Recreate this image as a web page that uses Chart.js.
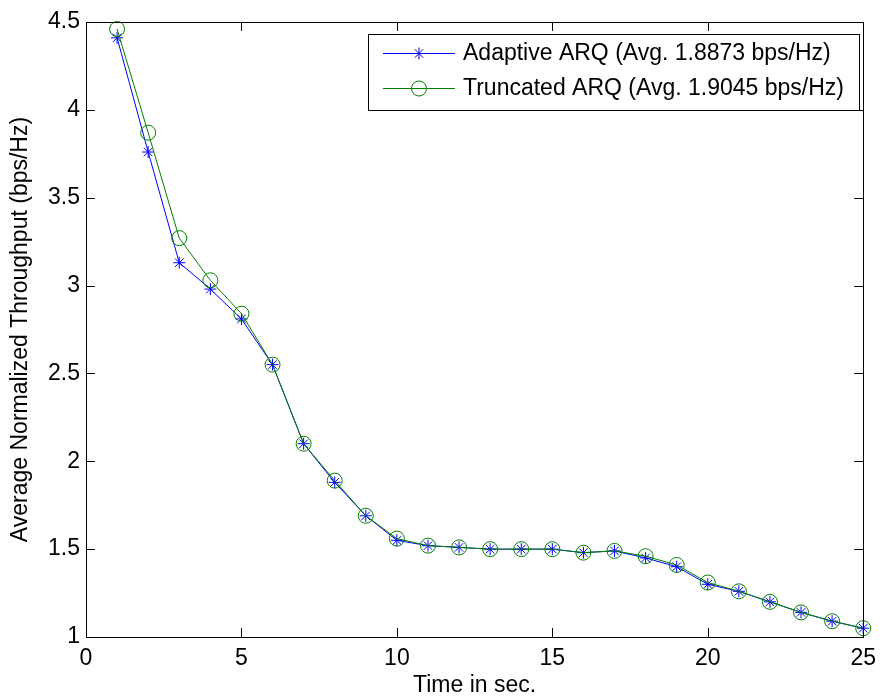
<!DOCTYPE html>
<html>
<head>
<meta charset="utf-8">
<script src="https://cdn.jsdelivr.net/npm/chart.js@4/dist/chart.umd.min.js"></script>
<style>
  html, body { margin: 0; padding: 0; background: #fff; }
  #wrap { width: 884px; height: 698px; }
</style>
</head>
<body>
<div id="wrap"><canvas id="throughputChart" width="884" height="698"></canvas></div>
<script>
// data
const timeSec = [1, 2, 3, 4, 5, 6, 7, 8, 9, 10, 11, 12, 13, 14, 15, 16, 17, 18, 19, 20, 21, 22, 23, 24, 25];
const adaptiveArq = [4.41, 3.76, 3.13, 2.98, 2.81, 2.55, 2.10, 1.88, 1.69, 1.55, 1.52, 1.51, 1.50, 1.50, 1.50, 1.48, 1.49, 1.45, 1.40, 1.30, 1.26, 1.20, 1.14, 1.09, 1.05];
const truncatedArq = [4.46, 3.87, 3.27, 3.03, 2.84, 2.55, 2.10, 1.89, 1.69, 1.56, 1.52, 1.51, 1.50, 1.50, 1.50, 1.48, 1.49, 1.46, 1.41, 1.31, 1.26, 1.20, 1.14, 1.09, 1.05];
const seriesLabels = ['Adaptive ARQ (Avg. 1.8873 bps/Hz)', 'Truncated ARQ (Avg. 1.9045 bps/Hz)'];
const xTicks = [0, 5, 10, 15, 20, 25];
const yTicks = [1, 1.5, 2, 2.5, 3, 3.5, 4, 4.5];

const fontFamily = '"Liberation Sans", Arial, Helvetica, sans-serif';
const fontSize = 23;

// Matlab style box with inward ticks + legend box
const boxPlugin = {
    id: 'boxPlugin',
    afterDraw(chart) {
        const ctx = chart.ctx;
        const a = chart.chartArea;
        const xs = chart.scales.x, ys = chart.scales.y;
        const tl = 9;
        ctx.save();
        ctx.strokeStyle = '#000';
        ctx.lineWidth = 1;
        ctx.beginPath();
        xTicks.forEach(v => {
            const px = Math.round(xs.getPixelForValue(v)) + 0.5;
            ctx.moveTo(px, a.bottom); ctx.lineTo(px, a.bottom - tl);
            ctx.moveTo(px, a.top); ctx.lineTo(px, a.top + tl);
        });
        yTicks.forEach(v => {
            const py = Math.round(ys.getPixelForValue(v)) + 0.5;
            ctx.moveTo(a.left, py); ctx.lineTo(a.left + tl, py);
            ctx.moveTo(a.right, py); ctx.lineTo(a.right - tl, py);
        });
        ctx.stroke();
        ctx.strokeRect(Math.round(a.left) + 0.5, Math.round(a.top) + 0.5, Math.round(a.right - a.left), Math.round(a.bottom - a.top));

        // legend
        const lx = 368, ly = 34, lw = 491, lh = 76;
        ctx.fillStyle = '#fff';
        ctx.fillRect(lx, ly, lw, lh);
        ctx.strokeStyle = '#000';
        ctx.strokeRect(lx + 0.5, ly + 0.5, lw, lh);
        ctx.font = fontSize + 'px ' + fontFamily;
        ctx.textBaseline = 'middle';
        ctx.textAlign = 'left';
        chart.data.datasets.forEach((ds, i) => {
            const y = 53 + i * 35;
            ctx.strokeStyle = ds.borderColor;
            ctx.lineWidth = 1;
            ctx.beginPath();
            ctx.moveTo(383, y + 0.5); ctx.lineTo(455, y + 0.5);
            ctx.stroke();
            ctx.strokeStyle = ds.pointBorderColor;
            ctx.fillStyle = 'rgba(0,0,0,0)';
            Chart.helpers.drawPoint(ctx, {
                pointStyle: ds.pointStyle, radius: ds.pointRadius, borderWidth: 1, rotation: 0
            }, 419, y + 0.5);
            ctx.fillStyle = '#000';
            ctx.fillText(ds.label, 463, y + 1);
        });
        ctx.restore();
    }
};

const ctx = document.getElementById('throughputChart').getContext('2d');
const throughputChart = new Chart(ctx, {
    type: 'line',
    data: {
        labels: timeSec,
        datasets: [{
            label: seriesLabels[0],
            data: timeSec.map((t, i) => ({ x: t, y: adaptiveArq[i] })),
            borderColor: '#0000ff',
            backgroundColor: 'rgba(0,0,0,0)',
            pointBorderColor: '#0000ff',
            pointBackgroundColor: 'rgba(0,0,0,0)',
            borderWidth: 1,
            pointStyle: 'star',
            pointRadius: 6,
            pointBorderWidth: 1,
            order: 1,
            clip: false
        }, {
            label: seriesLabels[1],
            data: timeSec.map((t, i) => ({ x: t, y: truncatedArq[i] })),
            borderColor: '#008000',
            backgroundColor: 'rgba(0,0,0,0)',
            pointBorderColor: '#008000',
            pointBackgroundColor: 'rgba(0,0,0,0)',
            borderWidth: 1,
            pointStyle: 'circle',
            pointRadius: 7.5,
            pointBorderWidth: 1,
            order: 0,
            clip: false
        }]
    },
    options: {
        responsive: false,
        animation: false,
        layout: { padding: { top: 22, right: 15, left: 0, bottom: 0 } },
        plugins: { legend: { display: false }, tooltip: { enabled: false } },
        scales: {
            x: {
                type: 'linear',
                min: 0, max: 25,
                afterFit: s => { s.height = 61; },
                afterBuildTicks: s => { s.ticks = xTicks.map(v => ({ value: v })); },
                grid: { display: false, drawTicks: false },
                border: { display: false },
                ticks: { color: '#000', padding: 8, maxRotation: 0, font: { family: fontFamily, size: fontSize },
                         callback: v => String(v) },
                title: { display: true, text: 'Time in sec.', color: '#000',
                         font: { family: fontFamily, size: fontSize, lineHeight: 1 }, padding: { top: 0, bottom: 1 } }
            },
            y: {
                min: 1, max: 4.5,
                afterFit: s => { s.width = 86; },
                afterBuildTicks: s => { s.ticks = yTicks.map(v => ({ value: v })); },
                grid: { display: false, drawTicks: false },
                border: { display: false },
                ticks: { color: '#000', padding: 6, font: { family: fontFamily, size: fontSize },
                         callback: v => String(v) },
                title: { display: true, text: 'Average Normalized Throughput (bps/Hz)', color: '#000',
                         font: { family: fontFamily, size: fontSize, lineHeight: 1 }, padding: { top: 9, bottom: 0 } }
            }
        }
    },
    plugins: [boxPlugin]
});
</script>
</body>
</html>
